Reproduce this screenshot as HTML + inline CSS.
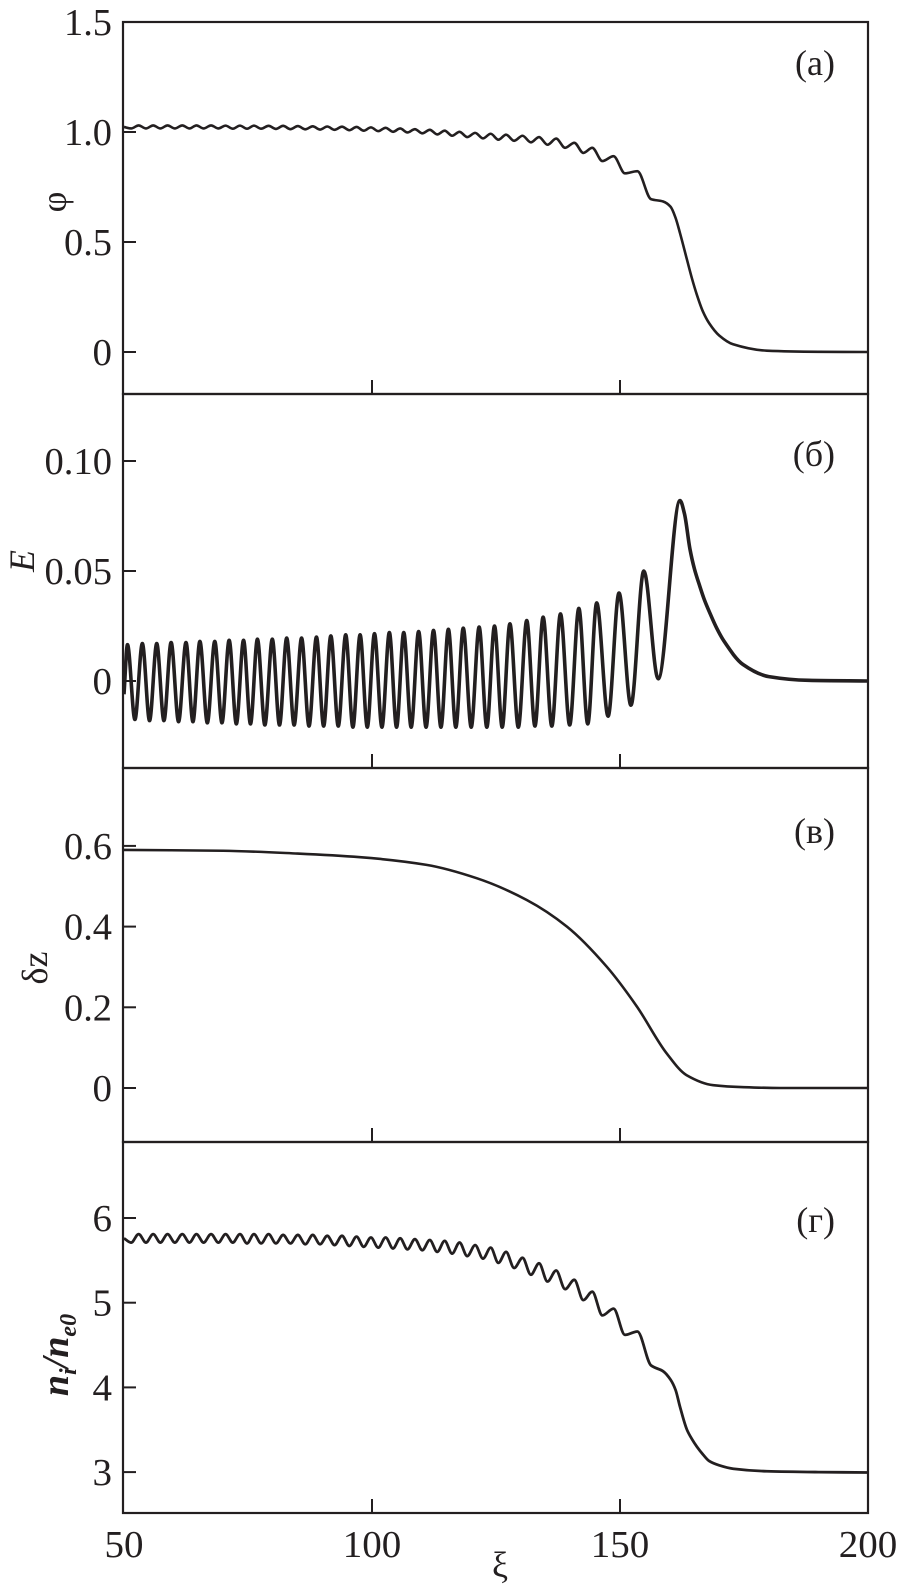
<!DOCTYPE html>
<html><head><meta charset="utf-8"><style>
html,body{margin:0;padding:0;background:#fff;}
svg{display:block;}
text{font-family:"Liberation Serif","DejaVu Serif",serif;fill:#231f20;}
</style></head><body>
<svg id="chart" width="902" height="1584" viewBox="0 0 902 1584" xmlns="http://www.w3.org/2000/svg">
<g id="frames"></g><g id="curves"></g><g id="labels"></g>
</svg>
<script>
// ---------- data ----------
const xTicks = [50, 100, 150, 200];
const xTickLabels = ["50", "100", "150", "200"];

const phiTicks = [0, 0.5, 1.0, 1.5];
const phiTickLabels = ["0", "0.5", "1.0", "1.5"];
const eTicks = [0, 0.05, 0.10];
const eTickLabels = ["0", "0.05", "0.10"];
const dzTicks = [0, 0.2, 0.4, 0.6];
const dzTickLabels = ["0", "0.2", "0.4", "0.6"];
const niTicks = [3, 4, 5, 6];
const niTickLabels = ["3", "4", "5", "6"];

// shared extrema positions for phi and n_i (min/max alternating), then tail
const profXi = [50,51.45,52.95,54.43,55.88,57.33,58.78,60.25,61.75,63.2,64.6,66.05,67.55,69.03,70.48,71.93,73.38,74.8,76.2,77.65,79.15,80.63,82.08,83.55,85.05,86.55,88.05,89.53,90.98,92.45,93.95,95.43,96.88,98.33,99.78,101.25,102.75,104.23,105.68,107.15,108.65,110.15,111.65,113.15,114.65,116.15,117.65,119.2,120.8,122.38,123.93,125.48,127.03,128.65,130.35,132.03,133.68,135.38,137.13,138.93,140.78,142.6,144.4,146.45,148.7,151.0,153.5,156.25,158.7,160.2,161.2,162.1,163.5,164.5,165.5,166.7,168,170,172.8,179.6,190,200];
const phiValues = [1.023,1.016,1.030,1.016,1.030,1.016,1.030,1.016,1.030,1.016,1.030,1.016,1.030,1.016,1.029,1.015,1.029,1.015,1.029,1.015,1.028,1.014,1.028,1.013,1.027,1.012,1.026,1.011,1.025,1.010,1.024,1.008,1.023,1.006,1.021,1.004,1.019,1.001,1.016,0.998,1.013,0.994,1.010,0.989,1.006,0.983,1.001,0.977,0.996,0.971,0.992,0.965,0.988,0.960,0.983,0.953,0.977,0.942,0.970,0.928,0.951,0.905,0.928,0.868,0.890,0.812,0.822,0.695,0.684,0.660,0.610,0.540,0.420,0.335,0.260,0.185,0.130,0.075,0.035,0.006,0.001,0.000];
const niValues = [5.76,5.71,5.81,5.71,5.81,5.71,5.81,5.71,5.81,5.71,5.81,5.71,5.81,5.71,5.81,5.71,5.81,5.70,5.81,5.70,5.81,5.70,5.80,5.70,5.80,5.69,5.80,5.69,5.79,5.68,5.79,5.67,5.78,5.66,5.77,5.65,5.77,5.64,5.76,5.63,5.75,5.62,5.74,5.60,5.73,5.58,5.71,5.55,5.68,5.52,5.65,5.47,5.60,5.41,5.53,5.33,5.465,5.25,5.38,5.16,5.27,5.03,5.13,4.85,4.93,4.62,4.66,4.26,4.19,4.09,3.97,3.77,3.50,3.39,3.30,3.21,3.13,3.08,3.04,3.01,3.00,2.995];

// E field: peaks, troughs, tail
const ePeakXi = [50.7,53.7,56.6,59.5,62.5,65.3,68.3,71.2,74.1,76.9,79.9,82.8,85.8,88.8,91.7,94.7,97.6,100.5,103.5,106.4,109.4,112.4,115.4,118.4,121.6,124.7,127.8,131.2,134.5,138.0,141.7,145.3,149.8,154.8,162.1];
const ePeakValues = [0.0165,0.017,0.017,0.0175,0.0175,0.018,0.018,0.0185,0.0185,0.019,0.019,0.0195,0.0195,0.020,0.0205,0.021,0.021,0.0215,0.022,0.022,0.0225,0.023,0.0235,0.024,0.0245,0.025,0.026,0.0275,0.029,0.0305,0.033,0.0355,0.040,0.050,0.082];
const eTroughXi = [52.2,55.15,58.05,61.0,63.9,66.8,69.75,72.65,75.5,78.4,81.35,84.3,87.3,90.25,93.2,96.15,99.05,102.0,104.95,107.9,110.9,113.9,116.9,120.0,123.15,126.25,129.5,132.85,136.25,139.85,143.5,147.6,152.2,157.7];
const eTroughValues = [-0.0175,-0.018,-0.018,-0.0185,-0.0185,-0.019,-0.019,-0.0195,-0.0195,-0.02,-0.02,-0.02,-0.0205,-0.0205,-0.0205,-0.021,-0.021,-0.021,-0.021,-0.021,-0.021,-0.021,-0.021,-0.021,-0.021,-0.021,-0.021,-0.0205,-0.0205,-0.02,-0.0195,-0.016,-0.011,0.001];
const eEdgeXi = [50,163.0,164.1,165.0,166.1,167.0,168.1,169.5,171,174.8,180,188,200];
const eEdgeValues = [-0.006,0.076,0.060,0.051,0.043,0.037,0.031,0.024,0.018,0.0075,0.002,0.0003,0];

// delta z
const dzXi = [50,70,85,97.6,111.0,121.1,131.2,139.3,147.3,153.4,159.4,163.4,168.8,175,182.3,200];
const dzValues = [0.590,0.588,0.581,0.572,0.553,0.520,0.466,0.400,0.301,0.202,0.086,0.032,0.007,0.002,0,0];

// ---------- layout ----------
const NS = "http://www.w3.org/2000/svg";
const X0 = 123, X1 = 868;
const xs = v => 124 + (v - 50) * 4.96;
const panels = [
  {id:"a", top:22, bottom:394, y: v => 352 - 220*v, ticks:phiTicks, labels:phiTickLabels, tag:"(a)", tagY:75},
  {id:"b", top:394, bottom:768, y: v => 681 - 2200*v, ticks:eTicks, labels:eTickLabels, tag:"(б)", tagY:466},
  {id:"c", top:768, bottom:1142, y: v => 1088 - 403.5*v, ticks:dzTicks, labels:dzTickLabels, tag:"(в)", tagY:843},
  {id:"d", top:1142, bottom:1513, y: v => 1218 - 84.7*(v-6), ticks:niTicks, labels:niTickLabels, tag:"(г)", tagY:1232}
];
const frames = document.getElementById("frames");
const curves = document.getElementById("curves");
const labels = document.getElementById("labels");
function mk(tag, attrs, parent){
  const e = document.createElementNS(NS, tag);
  for (const k in attrs) e.setAttribute(k, attrs[k]);
  parent.appendChild(e); return e;
}
function labelWidth(s){ let w=0; for(const c of s){ w += (c==='.')?9:19.5; } return w; }

panels.forEach(p => {
  const r = mk("rect", {x:X0, y:p.top, width:X1-X0, height:p.bottom-p.top, fill:"none", stroke:"#231f20", "stroke-width":2.2}, frames);
  
  
  p.ticks.forEach((t, i) => {
    const yy = p.y(t);
    const tk = mk("line", {x1:X0, x2:X0+13, y1:yy, y2:yy, stroke:"#231f20", "stroke-width":2}, frames);
    
    
    const s = p.labels[i];
    const tx = mk("text", {x:112, y:yy+13, "font-size":38, "text-anchor":"end", textLength:labelWidth(s), lengthAdjust:"spacingAndGlyphs"}, labels);
    tx.textContent = s;
    
    
  });
  [100, 150].forEach(v => {
    const tk = mk("line", {x1:xs(v), x2:xs(v), y1:p.bottom, y2:p.bottom-14, stroke:"#231f20", "stroke-width":2}, frames);
    
    
  });
  const tg = mk("text", {x:835, y:p.tagY, "font-size":36, "text-anchor":"end"}, labels);
  tg.textContent = p.tag;
  
  
});

// x tick labels
xTicks.forEach((t, i) => {
  const s = xTickLabels[i];
  let cx = xs(t);
  if (i === xTicks.length-1) cx = Math.min(cx, 902 - labelWidth(s)/2 - 3);
  const tx = mk("text", {x:cx, y:1557, "font-size":38, "text-anchor":"middle", textLength:labelWidth(s), lengthAdjust:"spacingAndGlyphs"}, labels);
  tx.textContent = s;
  
  
});
const xt = mk("text", {x:500, y:1577, "font-size":36, "text-anchor":"middle"}, labels);
xt.textContent = "ξ";



// y axis titles
function ytitle(name, x, y, html, size, style){
  const t = mk("text", {x:0, y:0, "font-size":size, "text-anchor":"middle", transform:`translate(${x},${y}) rotate(-90)`}, labels);
  if (style) t.setAttribute("style", style);
  t.innerHTML = html;
  
  
}
ytitle("y-axis-title-phi", 66, 202, "φ", 36);
ytitle("y-axis-title-e", 34, 561, "E", 36, "font-style:italic");
ytitle("y-axis-title-dz", 47, 968, "δz", 36);
ytitle("y-axis-title-ni", 68, 1355, 'n<tspan font-size="24" dy="8">i</tspan><tspan dy="-8">/n</tspan><tspan font-size="24" dy="8">e0</tspan>', 38, "font-style:italic;font-weight:bold");

// monotone cubic path
function monoPath(px, py){
  const n = px.length, d = [], m = new Array(n).fill(0);
  for (let i=0;i<n-1;i++) d.push((py[i+1]-py[i])/(px[i+1]-px[i]));
  m[0]=d[0]; m[n-1]=d[n-2];
  for (let i=1;i<n-1;i++){
    if (d[i-1]*d[i] <= 0) m[i]=0;
    else { const w1=2*(px[i+1]-px[i])+(px[i]-px[i-1]), w2=(px[i+1]-px[i])+2*(px[i]-px[i-1]);
      m[i]=(w1+w2)/(w1/d[i-1]+w2/d[i]); }
  }
  let s = `M${px[0].toFixed(2)},${py[0].toFixed(2)}`;
  for (let i=0;i<n-1;i++){
    const h=(px[i+1]-px[i])/3;
    s += `C${(px[i]+h).toFixed(2)},${(py[i]+m[i]*h).toFixed(2)} ${(px[i+1]-h).toFixed(2)},${(py[i+1]-m[i+1]*h).toFixed(2)} ${px[i+1].toFixed(2)},${py[i+1].toFixed(2)}`;
  }
  return s;
}
function drawSeries(name, xiArr, vArr, panel, width){
  const pts = xiArr.map((x,i)=>[xs(x), panel.y(vArr[i])]).sort((a,b)=>a[0]-b[0]);
  const path = mk("path", {d:monoPath(pts.map(p=>p[0]), pts.map(p=>p[1])), fill:"none", stroke:"#231f20", "stroke-width":width, "stroke-linejoin":"round"}, curves);
  
  
}
drawSeries("phi-curve", profXi, phiValues, panels[0], 2.6);
drawSeries("e-field-curve", ePeakXi.concat(eTroughXi, eEdgeXi), ePeakValues.concat(eTroughValues, eEdgeValues), panels[1], 3.6);
drawSeries("delta-z-curve", dzXi, dzValues, panels[2], 2.6);
drawSeries("ion-density-curve", profXi, niValues, panels[3], 2.8);
</script>
</body></html>
